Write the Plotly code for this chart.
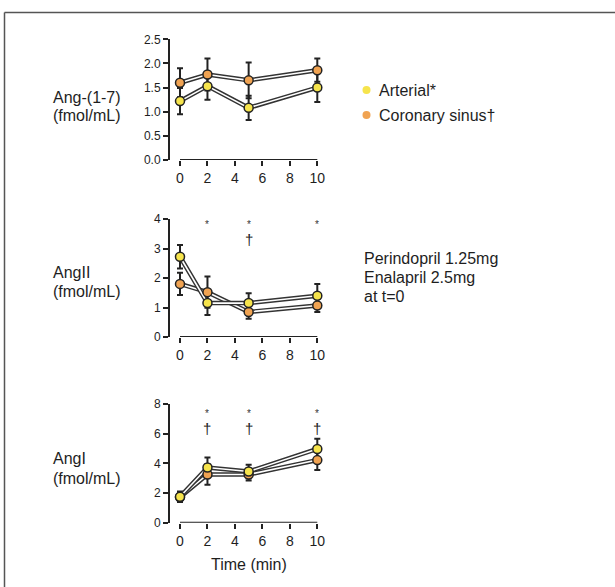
import plotly.graph_objects as go

W, H = 615, 587

time_min = [0, 2, 5, 10]
x_ticks = [0, 2, 4, 6, 8, 10]

# Ang-(1-7)
ang17_art = [1.22, 1.53, 1.08, 1.50]
ang17_art_err = [0.27, 0.28, 0.25, 0.30]
ang17_cs = [1.60, 1.77, 1.65, 1.86]
ang17_cs_err = [0.30, 0.33, 0.37, 0.24]
# AngII
ang2_art = [2.72, 1.15, 1.15, 1.40]
ang2_art_err = [0.40, 0.40, 0.33, 0.40]
ang2_cs = [1.80, 1.52, 0.85, 1.07]
ang2_cs_err = [0.38, 0.53, 0.23, 0.22]
# AngI
ang1_art = [1.75, 3.72, 3.45, 4.97]
ang1_art_err = [0.35, 0.68, 0.45, 0.68]
ang1_cs = [1.72, 3.25, 3.25, 4.22]
ang1_cs_err = [0.30, 0.70, 0.40, 0.67]

y_ranges = [[0, 2.5], [0, 4], [0, 8]]
y_tickvals = [[0, 0.5, 1.0, 1.5, 2.0, 2.5], [0, 1, 2, 3, 4], [0, 2, 4, 6, 8]]
y_ticktext = [["0.0", "0.5", "1.0", "1.5", "2.0", "2.5"], ["0", "1", "2", "3", "4"], ["0", "2", "4", "6", "8"]]
y_labels = [["Ang-(1-7)", "(fmol/mL)"], ["AngII", "(fmol/mL)"], ["AngI", "(fmol/mL)"]]

sig_star_x = [[], [2, 5, 10], [2, 5, 10]]
sig_dagger_x = [[], [5], [2, 5, 10]]

legend_labels = ["Arterial*", "Coronary sinus†"]
drug_lines = ["Perindopril 1.25mg", "Enalapril 2.5mg", "at t=0"]

YELLOW = "#f6e44c"
ORANGE = "#f0a352"
DARK = "#222222"
FONT = "Liberation Sans, Arial, sans-serif"
TXT = "#1e1e1e"

def px_x(p):
    return p / W

def px_y(p):
    return 1 - p / H

panels_px = [(160.0, 39.3), (337.0, 219.0), (522.7, 404.0)]
x_left_px, x0_px, x10_px, x_right_px = 170.0, 180.0, 317.3, 322.0
ppu = (x10_px - x0_px) / 10.0
x_range = [-(x0_px - x_left_px) / ppu, (x_right_px - x0_px) / ppu]

series = [
    (ang17_art, ang17_art_err, ang17_cs, ang17_cs_err),
    (ang2_art, ang2_art_err, ang2_cs, ang2_cs_err),
    (ang1_art, ang1_art_err, ang1_cs, ang1_cs_err),
]

fig = go.Figure()
layout = dict(
    template="none",
    width=W, height=H, margin=dict(l=0, r=0, t=0, b=0, autoexpand=False),
    paper_bgcolor="white", plot_bgcolor="white", showlegend=False,
    font=dict(family=FONT, color=TXT),
)
shapes = []
annotations = []

for i, ((art, art_e, cs, cs_e), (yb, yt)) in enumerate(zip(series, panels_px)):
    n = i + 1
    xa = "x" if n == 1 else f"x{n}"
    ya = "y" if n == 1 else f"y{n}"
    xkey = "xaxis" if n == 1 else f"xaxis{n}"
    ykey = "yaxis" if n == 1 else f"yaxis{n}"
    layout[xkey] = dict(
        domain=[px_x(x_left_px), px_x(x_right_px)], range=x_range, anchor=ya,
        tickvals=x_ticks, ticks="outside", ticklen=5, tickwidth=2, tickcolor=DARK,
        showline=False, showgrid=False, zeroline=False, automargin=False,
        tickfont=dict(size=14, family=FONT, color=TXT),
    )
    layout[ykey] = dict(
        domain=[px_y(yb), px_y(yt)], range=y_ranges[i], anchor=xa,
        tickvals=y_tickvals[i], ticktext=y_ticktext[i], ticks="outside", ticklen=5,
        tickwidth=2, tickcolor=DARK, showline=True, linewidth=2, linecolor=DARK,
        showgrid=False, zeroline=False, automargin=False,
        tickfont=dict(size=12, family=FONT, color=TXT),
    )
    shapes.append(dict(type="line", xref=xa, yref=ya, x0=0, x1=10, y0=0, y1=0,
                       line=dict(color=DARK, width=2)))

    for vals, errs in [(cs, cs_e), (art, art_e)]:
        fig.add_trace(go.Scatter(
            x=time_min, y=vals, mode="markers", xaxis=xa, yaxis=ya,
            marker=dict(size=1, color=DARK),
            error_y=dict(type="data", array=errs, visible=True, color=DARK, thickness=2, width=3),
            cliponaxis=False, hoverinfo="skip"))
    for vals in [cs, art]:
        fig.add_trace(go.Scatter(
            x=time_min, y=vals, mode="lines", xaxis=xa, yaxis=ya,
            line=dict(color="#333333", width=4.5), cliponaxis=False, hoverinfo="skip"))
        fig.add_trace(go.Scatter(
            x=time_min, y=vals, mode="lines", xaxis=xa, yaxis=ya,
            line=dict(color="white", width=1.6), cliponaxis=False, hoverinfo="skip"))
    for vals, col in [(cs, ORANGE), (art, YELLOW)]:
        fig.add_trace(go.Scatter(
            x=time_min, y=vals, mode="markers", xaxis=xa, yaxis=ya,
            marker=dict(size=9, color=col, line=dict(color=DARK, width=1.5)),
            cliponaxis=False))

    lab_y = [(97, 116), (272, 291), (458, 478)][i]
    for txt, yy in zip(y_labels[i], lab_y):
        annotations.append(dict(text=txt, xref="paper", yref="paper", x=px_x(51), y=px_y(yy),
                                xanchor="left", yanchor="middle", showarrow=False,
                                font=dict(size=16, family=FONT, color=TXT)))

    star_py = [0, 225, 413][i]
    dag_py = [0, 239, 428][i]
    for sx in sig_star_x[i]:
        annotations.append(dict(text="*", xref=xa, yref="paper", x=sx, y=px_y(star_py),
                                xanchor="center", yanchor="middle", showarrow=False,
                                font=dict(size=10, family=FONT, color="#333333")))
    for dx in sig_dagger_x[i]:
        annotations.append(dict(text="†", xref=xa, yref="paper", x=dx, y=px_y(dag_py),
                                xanchor="center", yanchor="middle", showarrow=False,
                                font=dict(size=15, family=FONT, color="#222222")))

# x-axis title of bottom panel
annotations.append(dict(text="Time (min)", xref="x3", yref="paper", x=5, y=px_y(564),
                        xanchor="center", yanchor="middle", showarrow=False,
                        font=dict(size=16, family=FONT, color=TXT)))

for txt, col, yy in zip(legend_labels, [YELLOW, ORANGE], [90, 115]):
    shapes.append(dict(type="circle", xref="paper", yref="paper",
                       x0=px_x(362.5), x1=px_x(370.5), y0=px_y(yy + 4), y1=px_y(yy - 4),
                       fillcolor=col, line=dict(width=0)))
    annotations.append(dict(text=txt, xref="paper", yref="paper", x=px_x(377), y=px_y(yy),
                            xanchor="left", yanchor="middle", showarrow=False,
                            font=dict(size=16, family=FONT, color=TXT)))

for txt, yy in zip(drug_lines, [258, 278, 297]):
    annotations.append(dict(text=txt, xref="paper", yref="paper", x=px_x(362), y=px_y(yy),
                            xanchor="left", yanchor="middle", showarrow=False,
                            font=dict(size=16, family=FONT, color=TXT)))

shapes.append(dict(type="line", xref="paper", yref="paper", x0=px_x(4.5), x1=px_x(4.5),
                   y0=0, y1=px_y(12.5), line=dict(color="#555555", width=1.5)))
shapes.append(dict(type="line", xref="paper", yref="paper", x0=px_x(4.5), x1=1,
                   y0=px_y(12.5), y1=px_y(12.5), line=dict(color="#555555", width=1.5)))

layout["shapes"] = shapes
layout["annotations"] = annotations
fig.update_layout(**layout)
fig.write_html("out.html", config={"displayModeBar": False},
               post_script="document.body.style.margin='0';document.body.style.overflow='hidden';")
